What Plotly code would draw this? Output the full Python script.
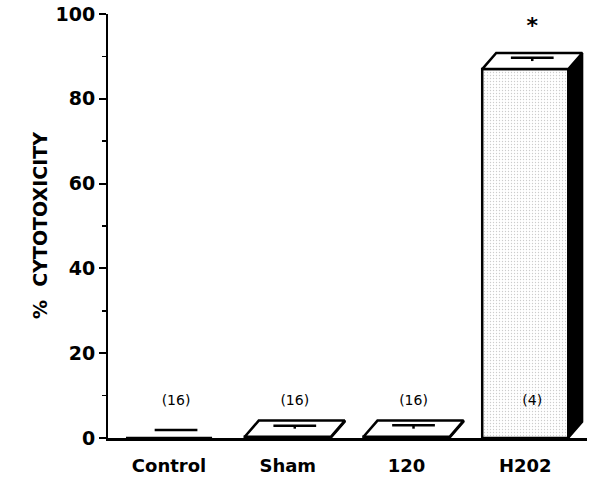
import plotly.graph_objects as go

# ---- data ----
categories = ["Control", "Sham", "120", "H202"]
values = [0, 0.3, 0.3, 87]          # % cytotoxicity (mean)
errors = [0, 0.7, 0.8, 0.8]         # SE
n_labels = ["(16)", "(16)", "(16)", "(4)"]
sig_marks = ["", "", "", "*"]
y_ticks = [0, 20, 40, 60, 80, 100]

# ---- 3D bar geometry (data units) ----
W = 0.725      # front face width
DX = 0.118     # depth offset in x
DY = 3.8       # depth offset in y
CAP = 0.36     # error cap width
FONT = "DejaVu Sans"

xs = list(range(len(categories)))

fig = go.Figure()

# front faces
fig.add_trace(go.Bar(
    x=xs, y=values, width=W,
    marker=dict(color="white",
                line=dict(color="black", width=2.5),
                pattern=dict(shape=".", fgcolor="#9a9a9a", bgcolor="white",
                             size=3, solidity=0.16)),
    hoverinfo="skip", showlegend=False))

# top faces and side faces
top_x, top_y, side_x, side_y = [], [], [], []
for i, v in zip(xs, values):
    if v <= 0:
        continue
    l, r = i - W / 2, i + W / 2
    top_x += [l, r, r + DX, l + DX, l, None]
    top_y += [v, v, v + DY, v + DY, v, None]
    side_x += [r, r + DX, r + DX, r, r, None]
    side_y += [0, DY, v + DY, v, 0, None]

fig.add_trace(go.Scatter(x=side_x, y=side_y, mode="lines", fill="toself",
                         fillcolor="black", line=dict(color="black", width=2),
                         hoverinfo="skip", showlegend=False))
fig.add_trace(go.Scatter(x=top_x, y=top_y, mode="lines", fill="toself",
                         fillcolor="white", line=dict(color="black", width=2.5),
                         hoverinfo="skip", showlegend=False))

# error bars (drawn at mid-depth)
ex, ey = [], []
for i, v, e in zip(xs, values, errors):
    c = i + DX / 2
    m = v + DY / 2
    ex += [c - CAP / 2, c + CAP / 2, None, c, c, None]
    ey += [m + e, m + e, None, m, m + e, None]
fig.add_trace(go.Scatter(x=ex, y=ey, mode="lines",
                         line=dict(color="black", width=2.5),
                         hoverinfo="skip", showlegend=False))

# n labels
fig.add_trace(go.Scatter(x=[i + DX / 2 for i in xs], y=[8.5] * len(xs),
                         mode="text", text=n_labels,
                         textfont=dict(family=FONT, size=14, color="black"),
                         hoverinfo="skip", showlegend=False))

# significance marks
fig.add_trace(go.Scatter(x=[i + DX / 2 for i in xs],
                         y=[v + DY + e + 5.3 for v, e in zip(values, errors)],
                         mode="text", text=sig_marks,
                         textfont=dict(family=FONT, size=22, color="black", weight="bold"),
                         hoverinfo="skip", showlegend=False))

fig.update_layout(
    width=589, height=477,
    margin=dict(l=108, r=2, t=14, b=39, autoexpand=False),
    plot_bgcolor="white", paper_bgcolor="white",
    showlegend=False,
    bargap=0,
    xaxis=dict(range=[-0.514, 3.52], tickvals=xs, ticktext=categories,
               showline=True, linecolor="black", linewidth=3,
               ticks="outside", ticklen=9, tickcolor="rgba(0,0,0,0)",
               showgrid=False, zeroline=False, automargin=False,
               ticklabeloverflow="allow",
               tickfont=dict(family=FONT, size=18, color="black", weight="bold")),
    yaxis=dict(range=[0, 100], tickvals=y_ticks,
               showline=True, linecolor="black", linewidth=2,
               ticks="outside", ticklen=7, tickwidth=2, tickcolor="black",
               minor=dict(dtick=10, ticks="outside", ticklen=4, tickwidth=1.5,
                          tickcolor="black"),
               showgrid=False, zeroline=False, automargin=False,
               ticklabeloverflow="allow",
               tickfont=dict(family=FONT, size=19, color="black", weight="bold")),
    annotations=[dict(text="%  CYTOTOXICITY", xref="paper", yref="paper",
                      x=0, y=0.5, xshift=-81, textangle=-90, showarrow=False,
                      font=dict(family=FONT, size=19, color="black", weight="bold"))],
)

# remove the default 8px page margin so the figure fills the window exactly
fig.write_html("out.html",
               config={"displayModeBar": False, "staticPlot": True},
               post_script="document.body.style.margin='0';document.body.style.overflow='hidden';")
